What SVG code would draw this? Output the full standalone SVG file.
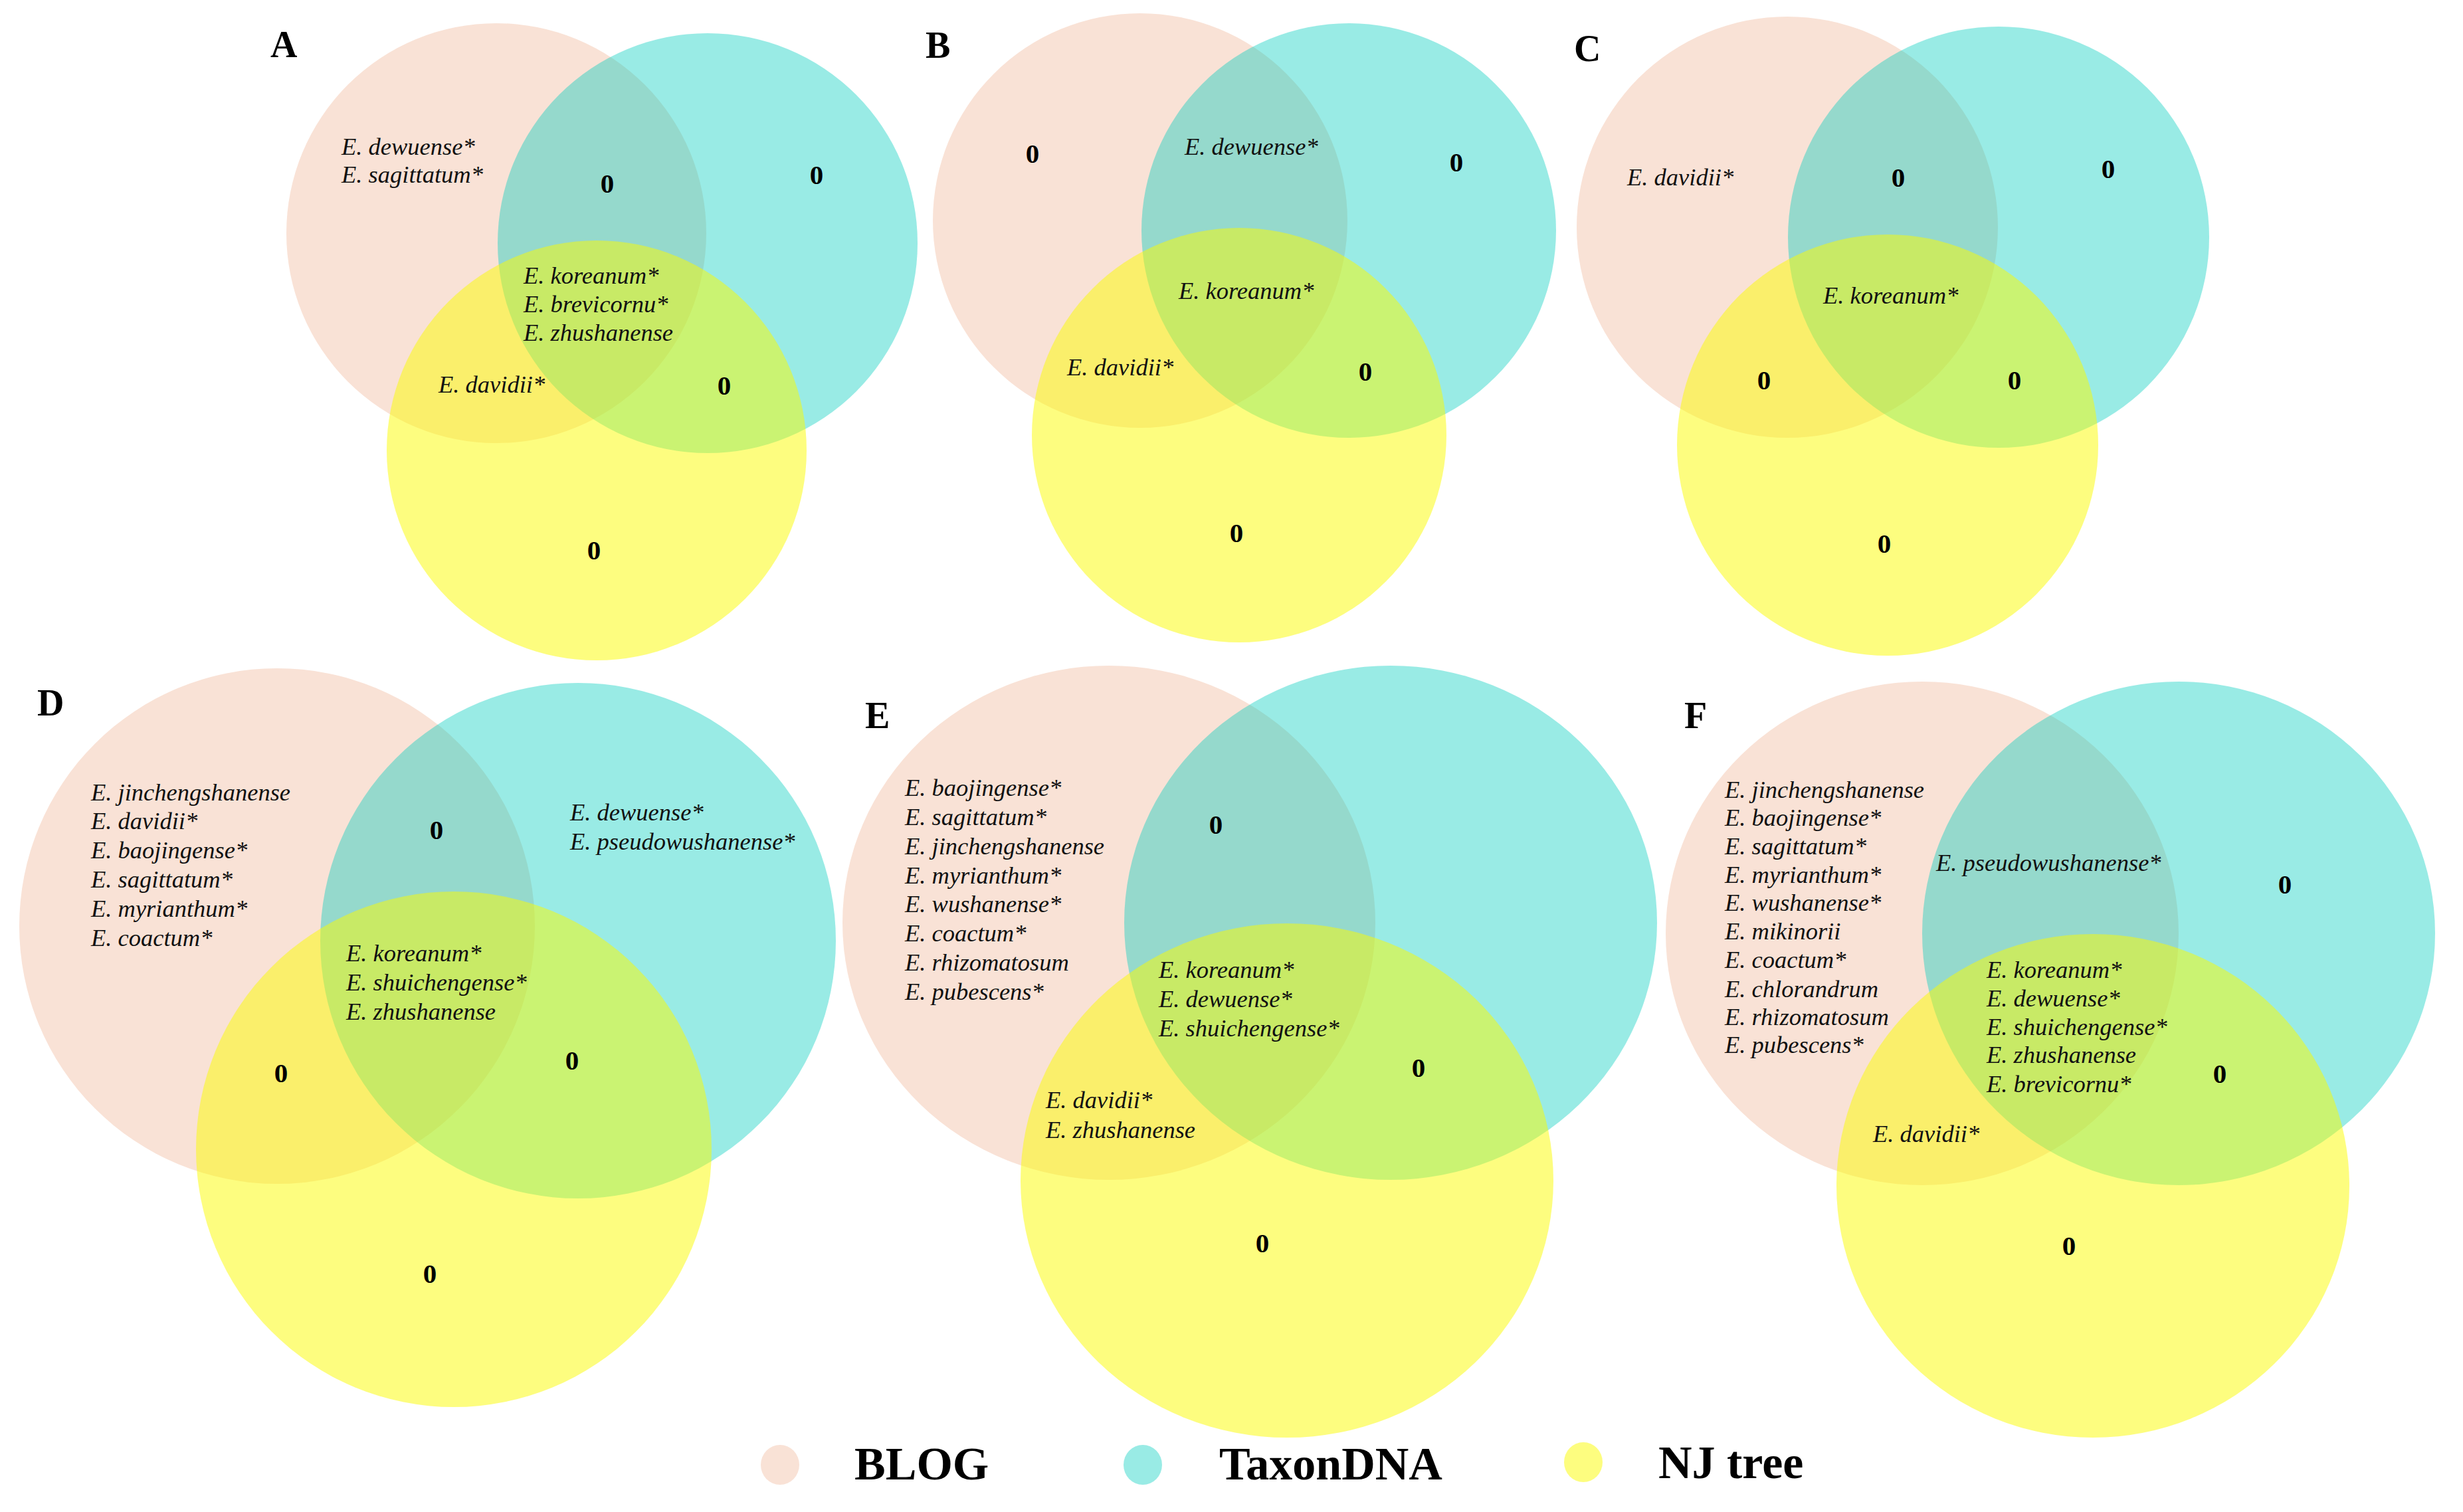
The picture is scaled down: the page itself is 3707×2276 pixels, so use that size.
<svg xmlns="http://www.w3.org/2000/svg" width="3707" height="2276" viewBox="0 0 3707 2276">
<style>
.bg{fill:#ffffff}
.p{fill:#F9E2D6}
.t{fill:rgb(0,204,190);fill-opacity:0.4}
.y{fill:rgb(252,252,0);fill-opacity:0.5}
.sp{font-family:"Liberation Serif","Times New Roman",serif;font-style:italic;font-size:36.5px;fill:#111}
.z{font-family:"Liberation Serif","Times New Roman",serif;font-weight:bold;font-size:41px;fill:#000;text-anchor:middle}
.lab{font-family:"Liberation Serif","Times New Roman",serif;font-weight:bold;font-size:56px;fill:#000}
.leg{font-family:"Liberation Serif","Times New Roman",serif;font-weight:bold;font-size:70px;fill:#000}
</style>
<rect class="bg" x="0" y="0" width="3707" height="2276"/>

<g id="panelA">
<circle class="p" cx="747" cy="351" r="316"/>
<circle class="t" cx="1065" cy="366" r="316"/>
<circle class="y" cx="898" cy="678" r="316"/>
<text class="lab" x="407" y="86">A</text>
<text class="sp" x="514" y="233">E. dewuense*</text>
<text class="sp" x="514" y="275">E. sagittatum*</text>
<text class="z" x="914" y="290">0</text>
<text class="z" x="1229" y="277">0</text>
<text class="sp" x="788" y="427">E. koreanum*</text>
<text class="sp" x="788" y="470">E. brevicornu*</text>
<text class="sp" x="788" y="513">E. zhushanense</text>
<text class="sp" x="660" y="591">E. davidii*</text>
<text class="z" x="1090" y="594">0</text>
<text class="z" x="894" y="842">0</text>
</g>

<g id="panelB">
<circle class="p" cx="1716" cy="332" r="312"/>
<circle class="t" cx="2030" cy="347" r="312"/>
<circle class="y" cx="1865" cy="655" r="312"/>
<text class="lab" x="1393" y="87">B</text>
<text class="z" x="1554" y="245">0</text>
<text class="sp" x="1783" y="233">E. dewuense*</text>
<text class="z" x="2192" y="258">0</text>
<text class="sp" x="1774" y="450">E. koreanum*</text>
<text class="sp" x="1606" y="565">E. davidii*</text>
<text class="z" x="2055" y="573">0</text>
<text class="z" x="1861" y="816">0</text>
</g>

<g id="panelC">
<circle class="p" cx="2690" cy="342" r="317"/>
<circle class="t" cx="3008" cy="357" r="317"/>
<circle class="y" cx="2841" cy="670" r="317"/>
<text class="lab" x="2369" y="92">C</text>
<text class="sp" x="2449" y="279">E. davidii*</text>
<text class="z" x="2857" y="281">0</text>
<text class="z" x="3173" y="268">0</text>
<text class="sp" x="2744" y="457">E. koreanum*</text>
<text class="z" x="2655" y="586">0</text>
<text class="z" x="3032" y="586">0</text>
<text class="z" x="2836" y="832">0</text>
</g>

<g id="panelD">
<circle class="p" cx="417" cy="1394" r="388"/>
<circle class="t" cx="870" cy="1416" r="388"/>
<circle class="y" cx="683" cy="1730" r="388"/>
<text class="lab" x="56" y="1077">D</text>
<text class="sp" x="137" y="1205">E. jinchengshanense</text>
<text class="sp" x="137" y="1248">E. davidii*</text>
<text class="sp" x="137" y="1292">E. baojingense*</text>
<text class="sp" x="137" y="1336">E. sagittatum*</text>
<text class="sp" x="137" y="1380">E. myrianthum*</text>
<text class="sp" x="137" y="1424">E. coactum*</text>
<text class="z" x="657" y="1263">0</text>
<text class="sp" x="858" y="1235">E. dewuense*</text>
<text class="sp" x="858" y="1279">E. pseudowushanense*</text>
<text class="sp" x="521" y="1447">E. koreanum*</text>
<text class="sp" x="521" y="1491">E. shuichengense*</text>
<text class="sp" x="521" y="1535">E. zhushanense</text>
<text class="z" x="423" y="1629">0</text>
<text class="z" x="861" y="1610">0</text>
<text class="z" x="647" y="1931">0</text>
</g>

<g id="panelE">
<ellipse class="p" cx="1669" cy="1389" rx="401" ry="387"/>
<ellipse class="t" cx="2093" cy="1389" rx="401" ry="387"/>
<ellipse class="y" cx="1937" cy="1777" rx="401" ry="387"/>
<text class="lab" x="1302" y="1096">E</text>
<text class="sp" x="1362" y="1198">E. baojingense*</text>
<text class="sp" x="1362" y="1242">E. sagittatum*</text>
<text class="sp" x="1362" y="1286">E. jinchengshanense</text>
<text class="sp" x="1362" y="1330">E. myrianthum*</text>
<text class="sp" x="1362" y="1373">E. wushanense*</text>
<text class="sp" x="1362" y="1417">E. coactum*</text>
<text class="sp" x="1362" y="1461">E. rhizomatosum</text>
<text class="sp" x="1362" y="1505">E. pubescens*</text>
<text class="z" x="1830" y="1255">0</text>
<text class="sp" x="1744" y="1472">E. koreanum*</text>
<text class="sp" x="1744" y="1516">E. dewuense*</text>
<text class="sp" x="1744" y="1560">E. shuichengense*</text>
<text class="z" x="2135" y="1621">0</text>
<text class="sp" x="1574" y="1668">E. davidii*</text>
<text class="sp" x="1574" y="1713">E. zhushanense</text>
<text class="z" x="1900" y="1885">0</text>
</g>

<g id="panelF">
<ellipse class="p" cx="2893" cy="1405" rx="386" ry="379"/>
<ellipse class="t" cx="3279" cy="1405" rx="386" ry="379"/>
<ellipse class="y" cx="3150" cy="1785" rx="386" ry="379"/>
<text class="lab" x="2535" y="1096">F</text>
<text class="sp" x="2596" y="1201">E. jinchengshanense</text>
<text class="sp" x="2596" y="1243">E. baojingense*</text>
<text class="sp" x="2596" y="1286">E. sagittatum*</text>
<text class="sp" x="2596" y="1329">E. myrianthum*</text>
<text class="sp" x="2596" y="1371">E. wushanense*</text>
<text class="sp" x="2596" y="1414">E. mikinorii</text>
<text class="sp" x="2596" y="1457">E. coactum*</text>
<text class="sp" x="2596" y="1501">E. chlorandrum</text>
<text class="sp" x="2596" y="1543">E. rhizomatosum</text>
<text class="sp" x="2596" y="1585">E. pubescens*</text>
<text class="sp" x="2914" y="1311">E. pseudowushanense*</text>
<text class="z" x="3439" y="1345">0</text>
<text class="sp" x="2990" y="1472">E. koreanum*</text>
<text class="sp" x="2990" y="1515">E. dewuense*</text>
<text class="sp" x="2990" y="1558">E. shuichengense*</text>
<text class="sp" x="2990" y="1600">E. zhushanense</text>
<text class="sp" x="2990" y="1644">E. brevicornu*</text>
<text class="z" x="3341" y="1630">0</text>
<text class="sp" x="2819" y="1719">E. davidii*</text>
<text class="z" x="3114" y="1889">0</text>
</g>

<g id="legend">
<g id="legend-blog">
<ellipse class="p" cx="1174" cy="2205" rx="29" ry="30"/>
<text class="leg" x="1286" y="2227">BLOG</text>
</g>
<g id="legend-taxondna">
<ellipse class="t" cx="1720" cy="2205" rx="29" ry="30"/>
<text class="leg" x="1835" y="2227">TaxonDNA</text>
</g>
<g id="legend-njtree">
<ellipse class="y" cx="2383" cy="2201" rx="29" ry="30"/>
<text class="leg" x="2496" y="2225">NJ tree</text>
</g>
</g>

<g id="connectors"></g>
</svg>
